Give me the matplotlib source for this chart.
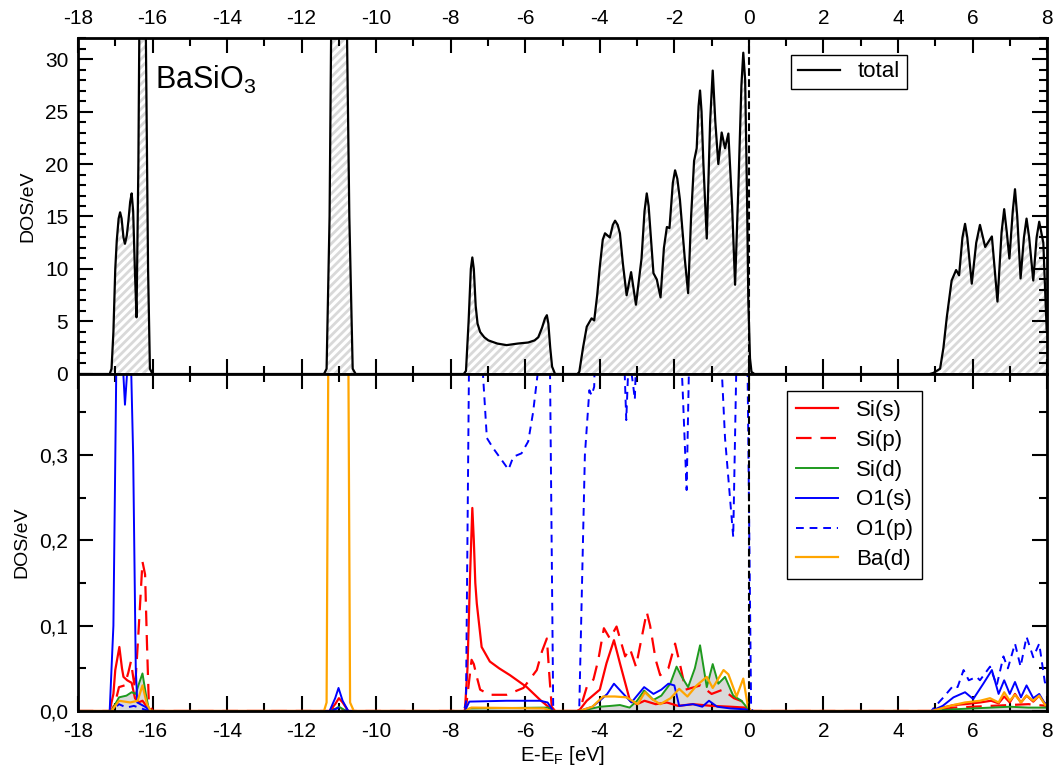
import matplotlib
matplotlib.use("Agg")
import matplotlib.pyplot as plt
import numpy as np
from matplotlib.ticker import MultipleLocator, FuncFormatter

plt.rcParams['font.family'] = ['Liberation Sans', 'DejaVu Sans']
plt.rcParams['mathtext.fontset'] = 'custom'
plt.rcParams['mathtext.rm'] = 'Liberation Sans'
plt.rcParams['mathtext.it'] = 'Liberation Sans:italic'
plt.rcParams['axes.unicode_minus'] = False
plt.rcParams['hatch.linewidth'] = 2.0
plt.rcParams['hatch.color'] = '#d9d9d9'

# total DOS (E, DOS/eV)
total = np.array([
    (-18, 0), (-17.15, 0), (-17.1, 0.5), (-17.05, 4), (-17.0, 10), (-16.96, 12.7),
    (-16.91, 14.8), (-16.87, 15.4), (-16.83, 14.8), (-16.78, 13.0), (-16.74, 12.4),
    (-16.69, 13.2), (-16.65, 14.5), (-16.6, 16.4), (-16.56, 17.2), (-16.52, 15.5),
    (-16.47, 9.5), (-16.43, 5.4), (-16.38, 20), (-16.34, 40), (-16.27, 60), (-16.2, 40),
    (-16.12, 10), (-16.07, 0.5), (-16.0, 0), (-11.4, 0), (-11.33, 0.5), (-11.25, 15),
    (-11.19, 40), (-11.0, 80), (-10.81, 40), (-10.72, 15), (-10.63, 0.5), (-10.55, 0),
    (-7.65, 0), (-7.59, 0.3), (-7.52, 5), (-7.46, 10), (-7.42, 11.1), (-7.38, 10),
    (-7.33, 6.5), (-7.28, 4.8), (-7.21, 4.0), (-7.1, 3.5), (-6.99, 3.2), (-6.75, 2.9),
    (-6.5, 2.75), (-6.2, 2.9), (-5.92, 3.0), (-5.75, 3.2), (-5.65, 3.5), (-5.55, 4.4),
    (-5.47, 5.3), (-5.42, 5.6), (-5.38, 4.8), (-5.33, 2.5), (-5.28, 0.7), (-5.2, 0),
    (-4.6, 0), (-4.55, 0.2), (-4.45, 2.5), (-4.35, 4.5), (-4.22, 5.3), (-4.15, 5.1),
    (-4.07, 7.5), (-4.0, 10.2), (-3.92, 12.8), (-3.86, 13.4), (-3.73, 13.0), (-3.65, 14.2),
    (-3.59, 14.6), (-3.52, 14.2), (-3.46, 13.4), (-3.38, 10.5), (-3.28, 7.5), (-3.16, 9.7),
    (-3.03, 6.6), (-2.88, 11), (-2.8, 15.5), (-2.74, 17.2), (-2.69, 16), (-2.63, 13),
    (-2.56, 9.6), (-2.47, 9.0), (-2.37, 7.3), (-2.28, 12), (-2.2, 14.0), (-2.13, 13.9),
    (-2.04, 18.2), (-1.98, 19.4), (-1.92, 18.6), (-1.85, 16.6), (-1.72, 11), (-1.63, 7.7),
    (-1.55, 15), (-1.47, 20.3), (-1.40, 21.5), (-1.35, 25.5), (-1.31, 27.0), (-1.27, 25),
    (-1.22, 20), (-1.13, 12.9), (-1.04, 24), (-0.97, 28.9), (-0.9, 24), (-0.82, 20.0),
    (-0.73, 23.0), (-0.64, 21.5), (-0.55, 22.9), (-0.45, 16), (-0.37, 8.5), (-0.28, 18),
    (-0.2, 27.5), (-0.15, 30.6), (-0.1, 28), (-0.05, 17), (-0.015, 7.0), (0.03, 1.5),
    (0.07, 0.2), (0.15, 0), (4.85, 0), (4.95, 0.1), (5.13, 0.5), (5.22, 2.5), (5.31, 5.4),
    (5.44, 8.9), (5.56, 9.9), (5.64, 9.4), (5.73, 13), (5.80, 14.3), (5.86, 13),
    (5.98, 8.6), (6.1, 12.5), (6.2, 14.2), (6.34, 12.1), (6.52, 13.1), (6.67, 6.9),
    (6.78, 13.5), (6.85, 15.7), (6.92, 13.5), (6.99, 11.0), (7.08, 15.5), (7.14, 17.6),
    (7.2, 15), (7.29, 9.1), (7.38, 13), (7.45, 14.8), (7.52, 13), (7.63, 8.9), (7.72, 13),
    (7.79, 14.5), (7.9, 12.5), (7.99, 4.2), (8.0, 4.0)])

# partial DOS
si_s = np.array([
    (-18, 0), (-17.15, 0), (-17.05, 0.02), (-17.0, 0.048), (-16.89, 0.075), (-16.82, 0.05),
    (-16.78, 0.04), (-16.68, 0.036), (-16.56, 0.033), (-16.47, 0.015), (-16.38, 0.01),
    (-16.27, 0.012), (-16.15, 0.005), (-16.05, 0), (-11.25, 0), (-11.1, 0.008), (-11.0, 0.015),
    (-10.9, 0.01), (-10.75, 0), (-7.62, 0), (-7.55, 0.05), (-7.48, 0.16), (-7.42, 0.238),
    (-7.38, 0.2), (-7.34, 0.15), (-7.3, 0.126), (-7.17, 0.075), (-6.95, 0.058), (-6.7, 0.05),
    (-6.41, 0.042), (-5.96, 0.028), (-5.6, 0.013), (-5.3, 0.002), (-5.2, 0), (-4.6, 0),
    (-4.53, 0.002), (-4.35, 0.012), (-4.0, 0.025), (-3.82, 0.056), (-3.62, 0.083),
    (-3.46, 0.056), (-3.3, 0.03), (-3.19, 0.012), (-3.0, 0.008), (-2.8, 0.012), (-2.5, 0.008),
    (-2.2, 0.01), (-1.9, 0.006), (-1.5, 0.008), (-1.0, 0.006), (-0.5, 0.005), (-0.1, 0.004),
    (0.05, 0), (4.9, 0), (5.2, 0.004), (5.5, 0.007), (5.8, 0.008), (6.2, 0.01), (6.5, 0.012),
    (6.7, 0.009), (6.85, 0.017), (7.0, 0.01), (7.14, 0.02), (7.3, 0.01), (7.45, 0.018),
    (7.63, 0.011), (7.79, 0.018), (7.95, 0.008), (8, 0.008)])

si_p = np.array([
    (-18, 0), (-17.1, 0), (-17.0, 0.01), (-16.9, 0.028), (-16.75, 0.03), (-16.65, 0.045),
    (-16.58, 0.058), (-16.52, 0.04), (-16.47, 0.026), (-16.38, 0.09), (-16.27, 0.175),
    (-16.2, 0.16), (-16.15, 0.08), (-16.1, 0.01), (-16.0, 0), (-11.2, 0), (-11.05, 0.006),
    (-10.85, 0), (-7.6, 0), (-7.52, 0.03), (-7.44, 0.06), (-7.38, 0.055), (-7.3, 0.04),
    (-7.21, 0.025), (-6.95, 0.019), (-6.5, 0.019), (-6.05, 0.027), (-5.69, 0.048),
    (-5.55, 0.07), (-5.42, 0.085), (-5.35, 0.04), (-5.29, 0.005), (-5.2, 0), (-4.6, 0),
    (-4.53, 0.002), (-4.35, 0.028), (-4.17, 0.037), (-4.04, 0.06), (-3.89, 0.097),
    (-3.73, 0.085), (-3.55, 0.099), (-3.32, 0.064), (-3.19, 0.073), (-3.03, 0.052),
    (-2.74, 0.116), (-2.65, 0.1), (-2.5, 0.06), (-2.38, 0.042), (-2.16, 0.05), (-1.98, 0.079),
    (-1.85, 0.055), (-1.7, 0.025), (-1.3, 0.03), (-1.0, 0.02), (-0.7, 0.025), (-0.4, 0.015),
    (-0.1, 0.01), (0.05, 0), (4.9, 0), (5.5, 0.004), (6.5, 0.006), (7.5, 0.008), (8, 0.006)])

si_d = np.array([
    (-18, 0), (-17.1, 0), (-16.9, 0.016), (-16.7, 0.018), (-16.56, 0.022), (-16.45, 0.02),
    (-16.38, 0.03), (-16.27, 0.044), (-16.18, 0.02), (-16.1, 0.002), (-16.0, 0), (-11.2, 0),
    (-11.0, 0.005), (-10.8, 0), (-7.6, 0), (-7.5, 0.003), (-5.4, 0.004), (-5.25, 0),
    (-4.55, 0), (-4.3, 0.002), (-4.0, 0.005), (-3.7, 0.006), (-3.46, 0.007), (-3.2, 0.004),
    (-3.0, 0.012), (-2.81, 0.024), (-2.56, 0.013), (-2.35, 0.018), (-2.11, 0.032),
    (-1.94, 0.052), (-1.8, 0.04), (-1.63, 0.028), (-1.45, 0.05), (-1.31, 0.077),
    (-1.13, 0.028), (-0.97, 0.055), (-0.82, 0.032), (-0.64, 0.04), (-0.42, 0.018),
    (-0.2, 0.012), (-0.05, 0.004), (0.05, 0), (4.9, 0), (5.5, 0.002), (6.0, 0.003),
    (6.5, 0.004), (7.0, 0.005), (7.5, 0.004), (8, 0.004)])

o1_s = np.array([
    (-18, 0), (-17.15, 0), (-17.05, 0.1), (-16.96, 0.45), (-16.85, 0.45), (-16.74, 0.359),
    (-16.6, 0.45), (-16.52, 0.3), (-16.45, 0.05), (-16.41, 0.01), (-16.2, 0.005), (-16.05, 0),
    (-11.25, 0), (-11.1, 0.015), (-11.01, 0.027), (-10.9, 0.012), (-10.75, 0), (-7.62, 0),
    (-7.5, 0.011), (-6.5, 0.012), (-5.6, 0.012), (-5.4, 0.01), (-5.25, 0), (-4.55, 0),
    (-4.2, 0.005), (-4.0, 0.012), (-3.8, 0.02), (-3.62, 0.032), (-3.41, 0.022), (-3.15, 0.01),
    (-2.81, 0.028), (-2.56, 0.02), (-2.35, 0.025), (-2.16, 0.032), (-2.0, 0.03), (-1.87, 0.006),
    (-1.5, 0.008), (-1.25, 0.005), (-1.07, 0.012), (-0.85, 0.005), (-0.5, 0.003), (-0.1, 0.002),
    (0.05, 0), (4.9, 0), (5.2, 0.006), (5.49, 0.016), (5.8, 0.022), (6.02, 0.014),
    (6.29, 0.032), (6.52, 0.048), (6.7, 0.02), (6.85, 0.036), (7.0, 0.02), (7.14, 0.034),
    (7.3, 0.016), (7.45, 0.03), (7.63, 0.015), (7.79, 0.02), (7.95, 0.008), (8, 0.01)])

o1_p = np.array([
    (-18, 0), (-17.1, 0), (-16.9, 0.008), (-16.7, 0.004), (-16.5, 0.006), (-16.1, 0),
    (-11.2, 0), (-11.0, 0.004), (-10.8, 0), (-7.65, 0), (-7.59, 0.01), (-7.5, 0.45),
    (-7.3, 0.6), (-7.17, 0.42), (-7.03, 0.32), (-6.86, 0.308), (-6.63, 0.294), (-6.45, 0.283),
    (-6.32, 0.298), (-6.1, 0.302), (-5.92, 0.316), (-5.79, 0.35), (-5.6, 0.42), (-5.45, 0.6),
    (-5.34, 0.42), (-5.25, 0.005), (-5.2, 0), (-4.6, 0), (-4.55, 0.005), (-4.4, 0.3),
    (-4.28, 0.376), (-4.22, 0.37), (-4.15, 0.38), (-4.05, 0.6), (-3.5, 0.8), (-3.35, 0.42),
    (-3.29, 0.341), (-3.22, 0.42), (-3.1, 0.38), (-3.06, 0.365), (-3.0, 0.45), (-2.5, 0.8),
    (-1.9, 0.5), (-1.78, 0.38), (-1.67, 0.259), (-1.6, 0.42), (-1.2, 0.8), (-0.75, 0.42),
    (-0.64, 0.32), (-0.42, 0.204), (-0.33, 0.42), (-0.2, 0.8), (-0.04, 0.42), (0.06, 0.005),
    (0.1, 0), (4.9, 0), (4.95, 0.003), (5.2, 0.015), (5.49, 0.03), (5.6, 0.028), (5.76, 0.048),
    (5.9, 0.036), (6.11, 0.04), (6.2, 0.036), (6.47, 0.052), (6.65, 0.03), (6.83, 0.064),
    (6.95, 0.05), (7.14, 0.079), (7.29, 0.052), (7.45, 0.087), (7.63, 0.063), (7.79, 0.079),
    (7.94, 0.034), (8, 0.03)])

ba_d = np.array([
    (-18, 0), (-17.1, 0), (-16.9, 0.012), (-16.6, 0.01), (-16.4, 0.012), (-16.27, 0.03),
    (-16.15, 0.008), (-16.05, 0), (-11.4, 0), (-11.33, 0.01), (-11.28, 0.45), (-11.0, 1.5),
    (-10.75, 0.45), (-10.7, 0.01), (-10.6, 0), (-7.6, 0), (-7.45, 0.004), (-5.5, 0.003),
    (-5.3, 0), (-4.55, 0), (-4.2, 0.005), (-3.91, 0.017), (-3.6, 0.017), (-3.28, 0.016),
    (-2.98, 0.008), (-2.79, 0.022), (-2.6, 0.014), (-2.38, 0.008), (-2.1, 0.015),
    (-1.87, 0.026), (-1.65, 0.017), (-1.4, 0.03), (-1.13, 0.04), (-0.97, 0.027),
    (-0.68, 0.048), (-0.55, 0.043), (-0.33, 0.017), (-0.15, 0.038), (-0.03, 0.006), (0.05, 0),
    (4.9, 0), (5.49, 0.007), (5.8, 0.01), (6.2, 0.012), (6.47, 0.015), (6.7, 0.01),
    (6.85, 0.022), (7.0, 0.012), (7.14, 0.019), (7.3, 0.01), (7.45, 0.018), (7.63, 0.012),
    (7.79, 0.018), (7.95, 0.007), (8, 0.008)])

fig = plt.figure(figsize=(10.54, 7.74), dpi=100)
ax1 = fig.add_axes([0.074, 0.5168, 0.9194, 0.4341])
ax2 = fig.add_axes([0.074, 0.0814, 0.9194, 0.4354])

leg_kw = dict(fontsize=16, fancybox=False, edgecolor='black', framealpha=1,
              handlelength=1.9, handletextpad=0.8, borderaxespad=0)

# top panel: total DOS
ax1.fill_between(total[:, 0], total[:, 1], facecolor='white', hatch='////',
                 edgecolor='#d9d9d9', linewidth=0)
ax1.plot(total[:, 0], total[:, 1], color='black', lw=1.6, label='total')
ax1.axvline(0, color='black', ls='--', lw=1.5)
ax1.set_xlim(-18, 8)
ax1.set_ylim(0, 32)
ax1.set_ylabel('DOS/eV', fontsize=14, labelpad=6)
ax1.text(-15.93, 27.2, r'BaSiO$_3$', fontsize=22)
lg1 = ax1.legend(loc='upper right', bbox_to_anchor=(0.855, 0.95), borderpad=0.3, **leg_kw)
lg1.get_frame().set_linewidth(1.0)

# bottom panel: partial DOS
ax2.fill_between(si_d[:, 0], si_d[:, 1], facecolor='#d9d9d9', linewidth=0)
ax2.plot(si_s[:, 0], si_s[:, 1], color='red', lw=1.6, label='Si(s)')
ax2.plot(si_p[:, 0], si_p[:, 1], color='red', lw=1.6, dashes=(7, 4), label='Si(p)')
ax2.plot(si_d[:, 0], si_d[:, 1], color='#1e9a1e', lw=1.4, label='Si(d)')
ax2.plot(o1_s[:, 0], o1_s[:, 1], color='blue', lw=1.4, label='O1(s)')
ax2.plot(o1_p[:, 0], o1_p[:, 1], color='blue', lw=1.4, dashes=(4, 3), label='O1(p)')
ax2.plot(ba_d[:, 0], ba_d[:, 1], color='orange', lw=1.6, label='Ba(d)')
ax2.axvline(0, color='black', ls='--', lw=1.5)
ax2.set_xlim(-18, 8)
ax2.set_ylim(0, 0.395)
ax2.set_ylabel('DOS/eV', fontsize=14, labelpad=6)
ax2.set_xlabel(r'E-E$_\mathrm{F}$ [eV]', fontsize=14.5, labelpad=2)
ax2.yaxis.set_major_formatter(FuncFormatter(lambda v, p: f'{v:.1f}'.replace('.', ',')))
lg2 = ax2.legend(loc='upper right', bbox_to_anchor=(0.871, 0.95), borderpad=0.4,
                 labelspacing=0.4, **leg_kw)
lg2.get_frame().set_linewidth(1.0)

for ax in (ax1, ax2):
    ax.xaxis.set_major_locator(MultipleLocator(2))
    ax.xaxis.set_minor_locator(MultipleLocator(1))
    ax.tick_params(which='both', direction='in', top=True, right=True, labelsize=15, pad=7)
    ax.tick_params(which='major', length=11, width=1.5)
    ax.tick_params(which='minor', length=5.5, width=1.5)
    for s in ax.spines.values():
        s.set_linewidth(2.0)

ax1.yaxis.set_major_locator(MultipleLocator(5))
ax1.yaxis.set_minor_locator(MultipleLocator(1))
ax1.tick_params(axis='x', labeltop=True, labelbottom=False)
ax2.yaxis.set_major_locator(MultipleLocator(0.1))
ax2.yaxis.set_minor_locator(MultipleLocator(0.05))
ax2.tick_params(axis='x', pad=8)

fig.savefig('out.png', dpi=100)
